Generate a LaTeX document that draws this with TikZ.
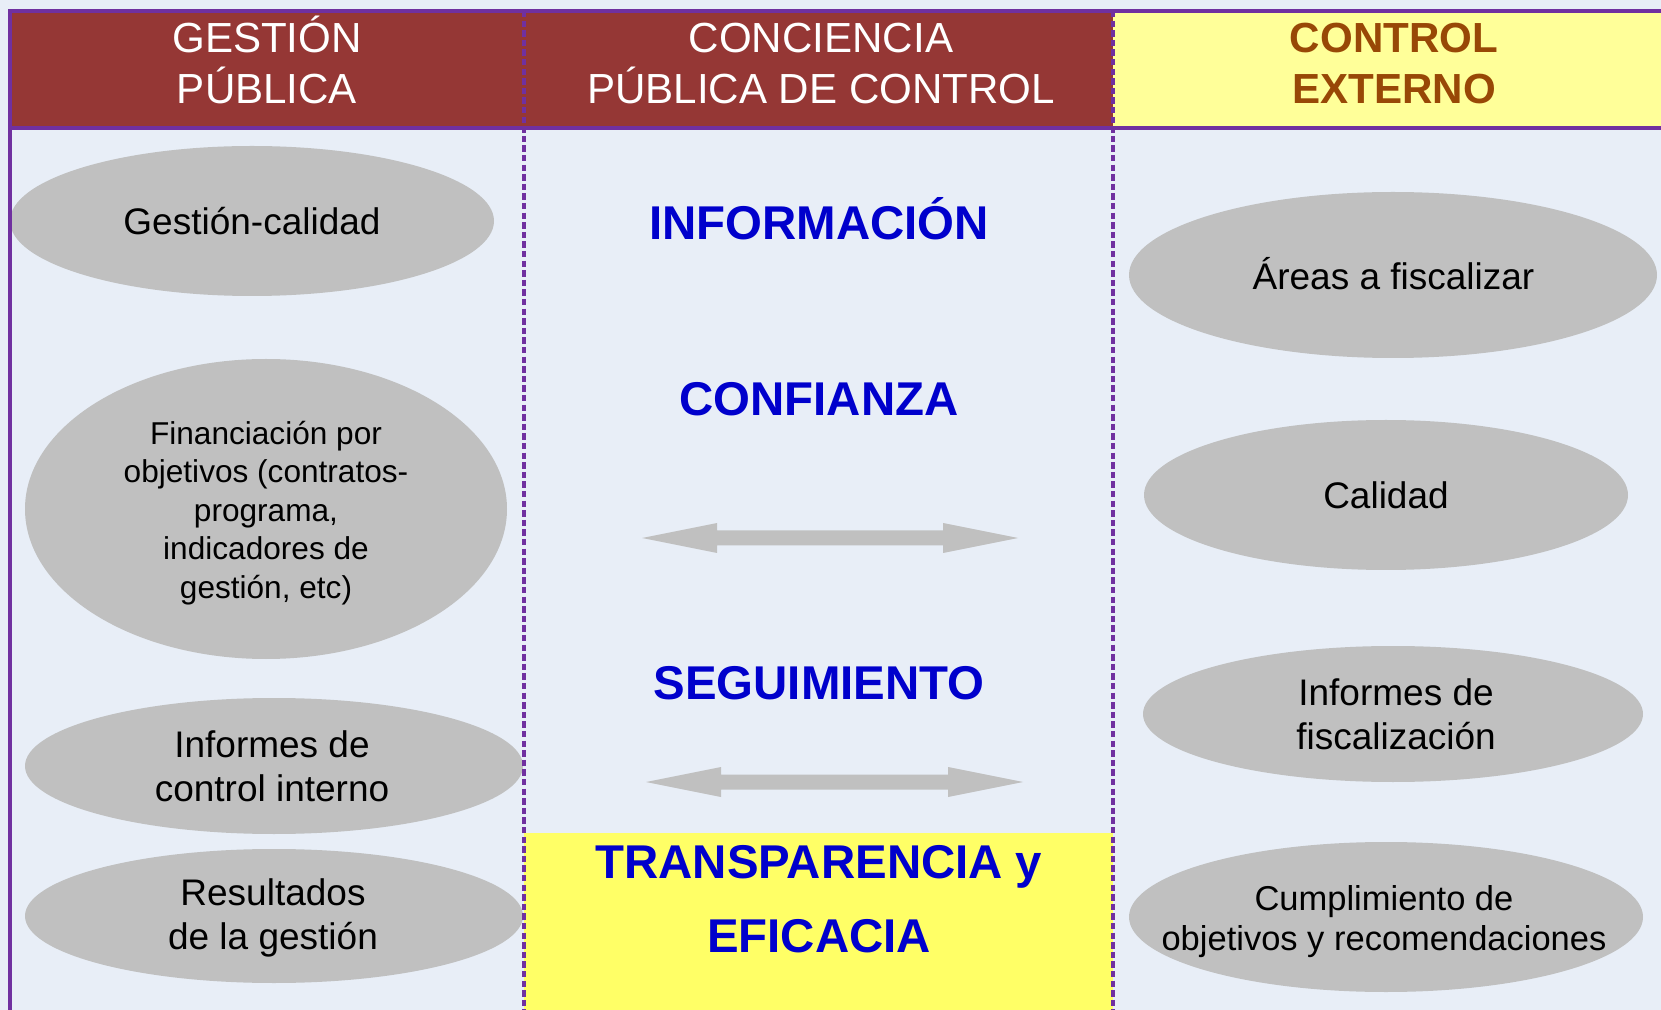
\documentclass[tikz,border=0pt]{standalone}
\usepackage{fontspec}
\setmainfont{Liberation Sans}
\usetikzlibrary{shapes.geometric,calc}
\definecolor{bgblue}{HTML}{E8EEF7}
\definecolor{hdrred}{HTML}{953735}
\definecolor{hdryel}{HTML}{FFFF99}
\definecolor{boxyel}{HTML}{FFFF66}
\definecolor{linepur}{HTML}{7030A0}
\definecolor{ovalgray}{HTML}{C0C0C0}
\definecolor{kwblue}{HTML}{0000CC}
\definecolor{brownt}{HTML}{984806}
\newcommand\topstr{\vrule height 1em depth 0pt width 0pt}
\newcommand\botstr{\vrule height 0pt depth .35em width 0pt}
\begin{document}
\begin{tikzpicture}[x=0.5pt,y=-0.5pt,
  oval/.style={ellipse, fill=ovalgray, draw=none, inner sep=0pt, outer sep=0pt},
  txt/.style={inner sep=0pt, outer sep=0pt, align=center},
  hdr/.style={txt, text=white, font=\fontsize{21.05}{25.25}\selectfont},
  hdrb/.style={txt, text=brownt, font=\fontsize{21.05}{25.25}\selectfont\bfseries},
  kw/.style={txt, text=kwblue, font=\fontsize{23.7}{37}\selectfont\bfseries},
  ot/.style={txt, text=black, font=\fontsize{18.5}{22}\selectfont},
  frame/.style={draw=linepur, line width=1.7pt},
  divider/.style={draw=linepur, line width=1.7pt, dash pattern=on 3.2pt off 1.6pt},
  dblarrow/.style={fill=ovalgray, draw=none}
]
\useasboundingbox (0,0) rectangle (1661,1010);
% backgrounds
\fill[bgblue] (0,0) rectangle (1661,1010);
\fill[hdrred] (10,11) rectangle (1113,128);
\fill[hdryel] (1113,11) rectangle (1661,128);
\fill[boxyel] (524,833) rectangle (1113,1010);

% ovals, left column
\node[oval, minimum width=242pt, minimum height=75pt] (e1) at (252,221) {};
\node[oval, minimum width=241pt, minimum height=150pt] (e2) at (266,509) {};
\node[oval, minimum width=249pt, minimum height=68pt] (e3) at (274,766) {};
\node[oval, minimum width=249pt, minimum height=67pt] (e4) at (274,916) {};
% ovals, right column
\node[oval, minimum width=264pt, minimum height=83pt] (e5) at (1393,275) {};
\node[oval, minimum width=242pt, minimum height=75pt] (e6) at (1386,495) {};
\node[oval, minimum width=250pt, minimum height=68pt] (e7) at (1393,714) {};
\node[oval, minimum width=257pt, minimum height=75pt] (e8) at (1386,917) {};

% oval texts
\node[ot] (t1) at (252,222) {\topstr Gestión-calidad\botstr};
\node[ot, font=\fontsize{15.8}{19.2}\selectfont] (t2) at (266,511)
  {\topstr Financiación por\\objetivos (contratos-\\programa,\\indicadores de\\gestión, etc)\botstr};
\node[ot] (t3) at (272,767.5) {\topstr Informes de\\control interno\botstr};
\node[ot] (t4) at (273,915.5) {\topstr Resultados\\de la gestión\botstr};
\node[ot] (t5) at (1393.5,277) {\topstr Áreas a fiscalizar\botstr};
\node[ot] (t6) at (1386,496.5) {\topstr Calidad\botstr};
\node[ot] (t7) at (1396,715.2) {\topstr Informes de\\fiscalización\botstr};
\node[ot, font=\fontsize{17.25}{20}\selectfont] (t8) at (1384,919)
  {\topstr Cumplimiento de\\objetivos y recomendaciones\botstr};

% middle keywords
\node[kw] (k1) at (819,224) {\topstr INFORMACIÓN\botstr};
\node[kw] (k2) at (819,400.5) {\topstr CONFIANZA\botstr};
\node[kw] (k3) at (819,684.5) {\topstr SEGUIMIENTO\botstr};
\node[kw] (k4) at (819,900) {\topstr TRANSPARENCIA y\\EFICACIA\botstr};

% double arrows
\coordinate (a1l) at (642,538);
\coordinate (a1r) at (1018,538);
\coordinate (a2l) at (646,782);
\coordinate (a2r) at (1023,782);
\fill[dblarrow] (a1l) -- ++(75,-15) -- ++(0,7.5) -- ($(a1r)+(-75,-7.5)$) -- ++(0,-7.5)
  -- (a1r) -- ++(-75,15) -- ++(0,-7.5) -- ($(a1l)+(75,7.5)$) -- ++(0,7.5) -- cycle;
\fill[dblarrow] (a2l) -- ++(75,-15) -- ++(0,7.5) -- ($(a2r)+(-75,-7.5)$) -- ++(0,-7.5)
  -- (a2r) -- ++(-75,15) -- ++(0,-7.5) -- ($(a2l)+(75,7.5)$) -- ++(0,7.5) -- cycle;

% header texts
\node[hdr] (h1) at (267,64.5) {\topstr GESTIÓN\\PÚBLICA\botstr};
\node[hdr] (h2) at (821,64.5) {\topstr CONCIENCIA\\PÚBLICA DE CONTROL\botstr};
\node[hdrb] (h3) at (1394,64.5) {\topstr CONTROL\\EXTERNO\botstr};

% frame lines
\draw[frame] (10,1010) -- (10,11) -- (1661,11);
\draw[frame] (10,128) -- (1661,128);
\draw[divider] (524,11) -- (524,1010);
\draw[divider] (1113,11) -- (1113,1010);
\end{tikzpicture}
\end{document}
